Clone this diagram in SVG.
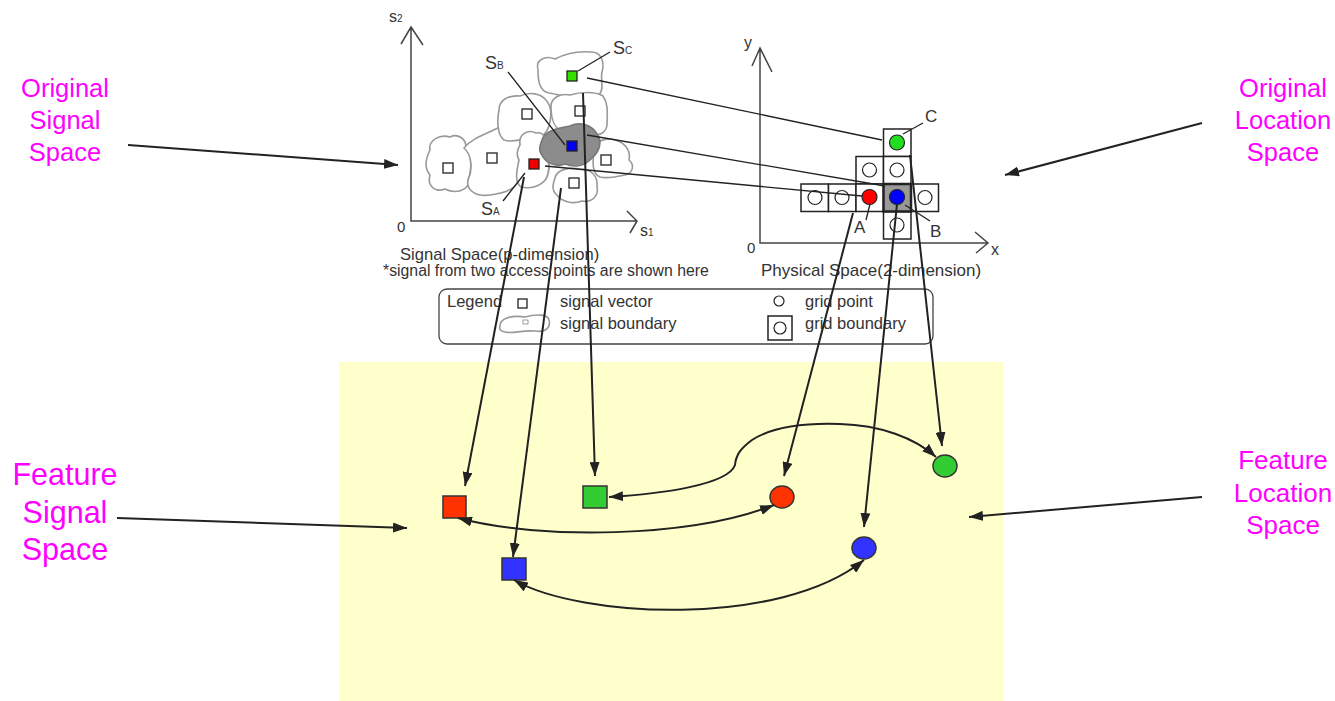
<svg xmlns="http://www.w3.org/2000/svg" width="1335" height="701" viewBox="0 0 1335 701">
<defs>
<marker id="ah" viewBox="0 0 14 10" refX="14" refY="5" markerWidth="14" markerHeight="10" markerUnits="userSpaceOnUse" orient="auto-start-reverse"><path d="M0,0 L14,5 L0,10 Z" fill="#222"/></marker>
<style>
.mag{font-family:"Liberation Sans",Arial,sans-serif;fill:#ff00ff;text-anchor:middle}
.sm{font-family:"Liberation Sans",Arial,sans-serif;fill:#333}
.blob{fill:#fff;stroke:#999;stroke-width:1.6}
.sq{fill:#fff;stroke:#222;stroke-width:1.3}
.ax{fill:none;stroke:#444;stroke-width:1.5}
.ln{fill:none;stroke:#222;stroke-width:1.3}
.cell{fill:#fff;stroke:#222;stroke-width:1.5}
.oc{fill:#fff;stroke:#222;stroke-width:1.2}
.con{fill:none;stroke:#222;stroke-width:2}
.fs{stroke:#333;stroke-width:1.5}
</style>
</defs>
<rect width="1335" height="701" fill="#fff"/>
<rect id="feature-area" x="339" y="362" width="664" height="339" fill="#ffffcc"/>

<g id="signal-space">
<path class="ax" d="M411,27 L411,221 L637,221 M401,44 L411,27 L423,45 M627,211 L637,221 L630,233"/>
<text class="sm" x="389" y="22" font-size="16">s<tspan font-size="10">2</tspan></text>
<text class="sm" x="397" y="232" font-size="15">0</text>
<text class="sm" x="640" y="236" font-size="16">s<tspan font-size="10">1</tspan></text>
<path class="blob" d="M430,150 C428,140 440,134 450,137 C458,133 466,139 466,147 C472,152 472,170 468,180 C470,191 455,194 445,189 C434,193 427,185 430,175 C424,168 426,158 430,150 Z"/>
<path class="blob" d="M464,148 C472,138 486,134 498,128 C508,124 520,127 520,137 C521,150 516,165 520,176 C518,189 505,193 490,195 C477,197 466,191 468,180 C473,170 472,155 464,148 Z"/>
<path class="blob" d="M499,110 C499,99 510,95 520,96 C530,91 541,94 546,100 C553,108 551,118 549,126 C546,134 540,141 530,139 C520,139 512,143 504,140 C497,135 497,120 499,110 Z"/>
<path class="blob" d="M538,70 C535,60 545,55 555,59 C565,54 578,51 590,52 C601,51 605,62 602,72 C600,80 605,88 599,95 C590,97 582,93 575,96 C565,99 555,93 549,93 C539,91 538,80 538,70 Z"/>
<path class="blob" d="M551,106 C551,98 560,93 570,95 C580,92 595,91 603,96 C609,105 607,115 607,125 C606,133 598,137 592,133 C585,129 575,133 565,131 C555,131 551,120 551,106 Z"/>
<path class="blob" d="M594,148 C597,139 610,137 618,141 C626,144 631,152 629,160 C635,165 633,173 625,175 C615,177 608,179 600,177 C591,173 593,160 594,148 Z"/>
<path class="blob" d="M555,178 C557,169 570,167 580,169 C591,169 598,176 597,186 C599,196 592,203 582,201 C572,205 561,201 557,195 C551,190 553,184 555,178 Z"/>
<path class="blob" d="M520,145 C518,134 528,129 536,133 C544,131 548,140 546,150 C549,160 551,170 546,179 C540,187 530,189 521,187 C514,182 517,170 519,160 C516,155 517,150 520,145 Z"/>
<path d="M542,140 C545,130 560,128 570,126 C580,121 592,125 597,134 C603,142 599,152 592,158 C585,166 575,168 565,164 C555,168 545,162 542,155 C538,150 540,145 542,140 Z" fill="#8c8c8c" stroke="#777" stroke-width="1.6"/>
<rect class="sq" x="443" y="163" width="10" height="10"/>
<rect class="sq" x="487" y="153" width="10" height="10"/>
<rect class="sq" x="522" y="109" width="10" height="10"/>
<rect class="sq" x="575" y="106" width="10" height="10"/>
<rect class="sq" x="601" y="155" width="10" height="10"/>
<rect class="sq" x="569" y="178" width="10" height="10"/>
<rect x="567" y="71" width="10" height="10" fill="#33e000" stroke="#222" stroke-width="1.3"/>
<rect x="567" y="141" width="10" height="10" fill="#0000f0" stroke="#222" stroke-width="1.3"/>
<rect x="529" y="159" width="10" height="10" fill="#f00000" stroke="#222" stroke-width="1.3"/>
<path class="ln" d="M508,72 L565,145 M578,71 L610,52 M503,201 L525,173"/>
<text class="sm" x="485" y="69" font-size="18">S<tspan font-size="10">B</tspan></text>
<text class="sm" x="613" y="54" font-size="18">S<tspan font-size="10">C</tspan></text>
<text class="sm" x="481" y="215" font-size="18">S<tspan font-size="10">A</tspan></text>
<text class="sm" x="400" y="260" font-size="16.6">Signal Space(p-dimension)</text>
<text class="sm" x="383" y="276" font-size="15.8">*signal from two access points are shown here</text>
</g>

<g id="physical-space">
<path class="ax" d="M760,48 L760,243 L988,243 M752,66 L760,48 L772,72 M975,232 L988,243 L976,253"/>
<text class="sm" x="744" y="48" font-size="16">y</text>
<text class="sm" x="747" y="253" font-size="15">0</text>
<text class="sm" x="991" y="255" font-size="16">x</text>
<rect class="cell" x="883.5" y="129" width="27.5" height="27.5"/>
<rect class="cell" x="856" y="156.5" width="27.5" height="27.5"/>
<rect class="cell" x="883.5" y="156.5" width="27.5" height="27.5"/>
<rect class="cell" x="801" y="184" width="27.5" height="27.5"/>
<rect class="cell" x="828.5" y="184" width="27.5" height="27.5"/>
<rect class="cell" x="856" y="184" width="27.5" height="27.5"/>
<rect class="cell" x="911" y="184" width="27.5" height="27.5"/>
<rect class="cell" x="883.5" y="211.5" width="27.5" height="27.5"/>
<rect x="883.5" y="184" width="27.5" height="27.5" fill="#999" stroke="#222" stroke-width="2.5"/>
<circle class="oc" cx="869.5" cy="170" r="7"/>
<circle class="oc" cx="897" cy="170" r="7"/>
<circle class="oc" cx="815" cy="197.5" r="7"/>
<circle class="oc" cx="842" cy="197.5" r="7"/>
<circle class="oc" cx="925" cy="197.5" r="7"/>
<circle class="oc" cx="897" cy="225" r="7"/>
<circle cx="897" cy="142.5" r="7.5" fill="#22dd22" stroke="#222" stroke-width="1.2"/>
<circle cx="869.5" cy="197" r="7.5" fill="#ff0000" stroke="#222" stroke-width="1.2"/>
<circle cx="897" cy="197" r="7.5" fill="#0000ff" stroke="#222" stroke-width="1.2"/>
<path class="ln" d="M903,134 L923,123 M870,204 L866,220 M905,205 L930,221"/>
<text class="sm" x="925" y="122" font-size="17">C</text>
<text class="sm" x="854" y="233" font-size="17">A</text>
<text class="sm" x="930" y="237" font-size="17">B</text>
<text class="sm" x="761" y="276" font-size="17">Physical Space(2-dimension)</text>
</g>

<g id="legend">
<rect x="439" y="289" width="494" height="55" rx="8" fill="#fff" stroke="#444" stroke-width="1.3"/>
<text class="sm" x="447" y="307" font-size="16.5">Legend</text>
<rect class="sq" x="518" y="299" width="9" height="9"/>
<text class="sm" x="560" y="307" font-size="16.5">signal vector</text>
<path class="blob" d="M500,326 C500,318 512,315 525,317 C536,314 548,314 549,320 C551,327 546,333 535,331 C522,330 512,334 505,332 C500,331 499,329 500,326 Z" stroke-width="1.2"/>
<rect x="523" y="320" width="5" height="4" fill="#fff" stroke="#888" stroke-width="0.8"/>
<text class="sm" x="560" y="329" font-size="16.5">signal boundary</text>
<circle class="oc" cx="779" cy="301" r="5"/>
<text class="sm" x="805" y="307" font-size="16.5">grid point</text>
<rect class="cell" x="768" y="316" width="24" height="24" stroke-width="1.3"/>
<circle class="oc" cx="780" cy="328" r="6"/>
<text class="sm" x="805" y="329" font-size="16.5">grid boundary</text>
</g>

<g id="feature-nodes">
<rect id="f-red-sq" class="fs" x="443" y="496" width="23" height="22" fill="#ff3300"/>
<rect id="f-green-sq" class="fs" x="583" y="486" width="24" height="22" fill="#33cc33"/>
<rect id="f-blue-sq" class="fs" x="502" y="558" width="24" height="22" fill="#3333ff"/>
<ellipse id="f-red-c" class="fs" cx="782" cy="497" rx="12" ry="11" fill="#ff3300"/>
<ellipse id="f-green-c" class="fs" cx="945" cy="466" rx="12" ry="11" fill="#33cc33"/>
<ellipse id="f-blue-c" class="fs" cx="864" cy="548" rx="12" ry="11" fill="#3333ff"/>
</g>

<g id="connectors">
<path class="ln" d="M587,78 L882,140 M587,135 L885,186 M545,166 L862,196"/>
<path class="con" marker-end="url(#ah)" d="M524,177 L465,486"/>
<path class="con" marker-end="url(#ah)" d="M561,188 L513,557"/>
<path class="con" marker-end="url(#ah)" d="M583,93 L595,476"/>
<path class="con" marker-end="url(#ah)" d="M853,213 L784,476"/>
<path class="con" marker-end="url(#ah)" d="M897,204 L864,527"/>
<path class="con" marker-end="url(#ah)" d="M910,155 L942,446"/>
<path class="con" marker-start="url(#ah)" marker-end="url(#ah)" d="M458,518 C540,540 690,538 774,505"/>
<path class="con" marker-start="url(#ah)" marker-end="url(#ah)" d="M514,580 C580,618 780,628 864,560"/>
<path class="con" marker-start="url(#ah)" marker-end="url(#ah)" d="M609,497 C660,494 728,485 735,465 C736,455 740,449 752,440 C775,425 810,423 840,424 C880,425 915,438 936,457"/>
<path class="con" marker-end="url(#ah)" d="M128,145 L398,165"/>
<path class="con" marker-end="url(#ah)" d="M1202,123 L1005,175"/>
<path class="con" marker-end="url(#ah)" d="M117,518 L407,528"/>
<path class="con" marker-end="url(#ah)" d="M1202,497 L969,517"/>
</g>

<g id="label-original-signal">
<text class="mag" x="65" y="97" font-size="25.5">Original</text>
<text class="mag" x="65" y="129" font-size="25.5">Signal</text>
<text class="mag" x="65" y="161" font-size="25.5">Space</text>
</g>
<g id="label-original-location">
<text class="mag" x="1283" y="97" font-size="25.5">Original</text>
<text class="mag" x="1283" y="129" font-size="25.5">Location</text>
<text class="mag" x="1283" y="161" font-size="25.5">Space</text>
</g>
<g id="label-feature-signal">
<text class="mag" x="65" y="485" font-size="30.5">Feature</text>
<text class="mag" x="65" y="523" font-size="30.5">Signal</text>
<text class="mag" x="65" y="560" font-size="30.5">Space</text>
</g>
<g id="label-feature-location">
<text class="mag" x="1283" y="469" font-size="26">Feature</text>
<text class="mag" x="1283" y="502" font-size="26">Location</text>
<text class="mag" x="1283" y="534" font-size="26">Space</text>
</g>
</svg>
